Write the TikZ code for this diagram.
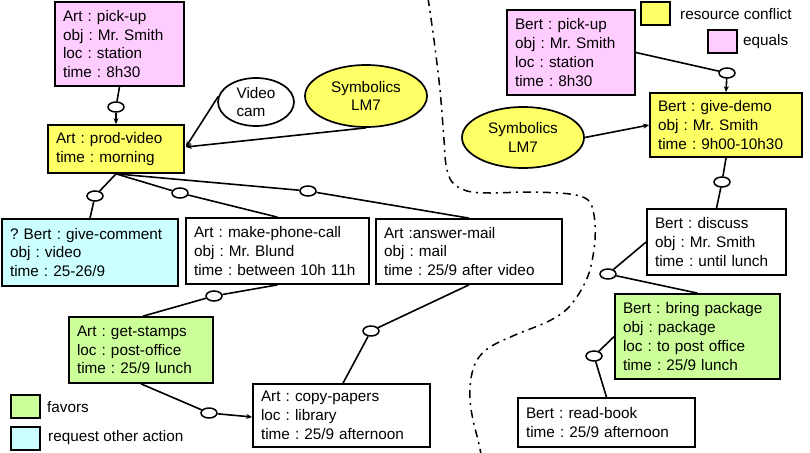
\documentclass[tikz,border=0pt]{standalone}
\usepackage{fontspec}
\setmainfont{Liberation Sans}
\usetikzlibrary{shapes.geometric,arrows.meta,calc}
\definecolor{cpink}{HTML}{FFCCFF}
\definecolor{cyel}{HTML}{FFFF66}
\definecolor{cgreen}{HTML}{CCFF99}
\definecolor{ccyan}{HTML}{CCFFFF}
\begin{document}
\frenchspacing
\begin{tikzpicture}[x=1pt,y=-1pt,
  font=\fontsize{15.3}{18.7}\selectfont\frenchspacing,
  box/.style={draw, line width=1.7pt, inner xsep=8pt, inner ysep=0pt, align=left},
  oval/.style={ellipse, draw, line width=1.7pt, inner sep=0pt, align=center},
  link/.style={ellipse, draw, fill=white, line width=1.5pt, minimum width=16pt, minimum height=10pt, inner sep=0pt},
  conn/.style={line width=1.6pt},
  arr/.style={line width=1.6pt, -{Stealth[length=6pt,width=5pt]}},
  sq/.style={draw, line width=1.7pt, minimum width=29pt, minimum height=23pt, inner sep=0pt},
  leg/.style={anchor=west, inner sep=0pt},
  border/.style={line width=1.5pt, dash pattern=on 8pt off 5pt on 2pt off 5pt}
]
\useasboundingbox (0,0) rectangle (810,452);

% dash-dot separator
\draw[border] plot[smooth, tension=0.55] coordinates {
 (428,-2) (434,40) (440,90) (444,140) (446,165) (452,182) (467,191) (490,193)
 (530,192) (570,194) (588,200) (594,215) (595,240) (590,270) (580,292) (566,310)
 (547,322) (515,335) (490,347) (477,360) (471,378) (470,400) (473,420) (478,440) (481,454)};

% boxes
\node[box, fill=cpink, text width=113pt, minimum height=84pt] (apick) at (119.5,44) {Art : pick-up\\obj : Mr. Smith\\loc : station\\time : 8h30};
\node[box, fill=cyel, text width=120pt, minimum height=48pt] (avideo) at (116,149) {Art : prod-video\\time : morning};
\node[box, fill=cpink, text width=112pt, minimum height=85pt] (bpick) at (571,52.5) {Bert : pick-up\\obj : Mr. Smith\\loc : station\\time : 8h30};
\node[box, fill=cyel, text width=136pt, minimum height=64pt] (bdemo) at (726,125) {Bert : give-demo\\obj : Mr. Smith\\time : 9h00-10h30};
\node[box, fill=ccyan, text width=160pt, minimum height=67pt] (bcomment) at (90,252.5) {? Bert : give-comment\\obj : video\\time : 25-26/9};
\node[box, fill=white, text width=167pt, minimum height=66pt] (aphone) at (277.5,251) {Art : make-phone-call\\obj : Mr. Blund\\time : between 10h 11h};
\node[box, fill=white, text width=170pt, minimum height=65pt] (amail) at (469,251.5) {Art :answer-mail\\obj : mail\\time : 25/9 after video};
\node[box, fill=white, text width=123pt, minimum height=66pt] (bdiscuss) at (716.5,242) {Bert : discuss\\obj : Mr. Smith\\time : until lunch};
\node[box, fill=cgreen, text width=149pt, minimum height=85pt] (bpackage) at (697.5,336.5) {Bert : bring package\\obj : package\\loc : to post office\\time : 25/9 lunch};
\node[box, fill=white, text width=161pt, minimum height=49pt] (bread) at (606.5,422.5) {Bert : read-book\\time : 25/9 afternoon};
\node[box, fill=cgreen, text width=128pt, minimum height=66pt] (astamps) at (141,350) {Art : get-stamps\\loc : post-office\\time : 25/9 lunch};
\node[box, fill=white, text width=161pt, minimum height=63pt] (acopy) at (341.5,415.5) {Art : copy-papers\\loc : library\\time : 25/9 afternoon};

% resources
\node[oval, fill=white, minimum width=76pt, minimum height=48pt, align=left] (videocam) at (256,102) {Video\\cam};
\node[oval, fill=cyel, minimum width=122pt, minimum height=62pt] (syml) at (366,96) {Symbolics\\LM7};
\node[oval, fill=cyel, minimum width=122pt, minimum height=61pt] (symr) at (523,137.5) {Symbolics\\LM7};

% link markers
\node[link] (l1) at (116,107) {};
\node[link] (l2) at (95,196) {};
\node[link] (l3) at (180,193) {};
\node[link] (l4) at (308,191) {};
\node[link] (l5) at (214,296) {};
\node[link] (l6) at (209,413) {};
\node[link] (l7) at (371,331) {};
\node[link] (l8) at (727,73) {};
\node[link] (l9) at (722,182) {};
\node[link] (l10) at (608,274) {};
\node[link] (l11) at (594,356) {};

% connectors
\draw[conn] (apick.south) -- (l1);
\draw[arr] (l1) -- (avideo.north);
\coordinate (avin) at ($(avideo.east)+(1,-2)$);
\draw[arr] (videocam.172) -- (avin);
\draw[arr] (syml.south) -- (avin);
\draw[conn] (avideo.south) -- (l2);
\draw[conn] (l2) -- (bcomment.north);
\draw[conn] (avideo.south) -- (l3);
\draw[conn] (l3) -- (aphone.north);
\draw[conn] (avideo.south) -- (l4);
\draw[conn] (l4) -- (amail.north);
\draw[conn] (aphone.south) -- (l5);
\draw[conn] (l5) -- ($(astamps.north)+(2,0)$);
\draw[conn] (astamps.south) -- (l6);
\draw[arr] (l6) -- ($(acopy.west)+(0,1.5)$);
\draw[conn] (amail.south) -- (l7);
\draw[conn] (l7) -- ($(acopy.north)+(1.5,0)$);
\draw[conn] (bpick.east) -- (l8);
\draw[arr] (l8) -- (bdemo.north);
\draw[arr] (symr.east) -- (bdemo.west);
\draw[conn] (bdemo.south) -- (l9);
\draw[conn] (l9) -- (bdiscuss.north);
\draw[conn] (bdiscuss.west) -- (l10);
\draw[conn] (l10) -- (bpackage.north);
\draw[conn] (bpackage.west) -- (l11);
\draw[conn] (l11) -- (bread.north);

% legend
\node[sq, fill=cyel] (lgy) at (655.5,13.5) {};
\node[leg] (lgyt) at (680,14) {resource conflict};
\node[sq, fill=cpink] (lgp) at (722.5,41.5) {};
\node[leg] (lgpt) at (743,42) {equals};
\node[sq, fill=cgreen] (lgg) at (25.5,406.5) {};
\node[leg] (lggt) at (47,407) {favors};
\node[sq, fill=ccyan] (lgc) at (25.5,438.5) {};
\node[leg] (lgct) at (48,438) {request other action};
\end{tikzpicture}
\end{document}
